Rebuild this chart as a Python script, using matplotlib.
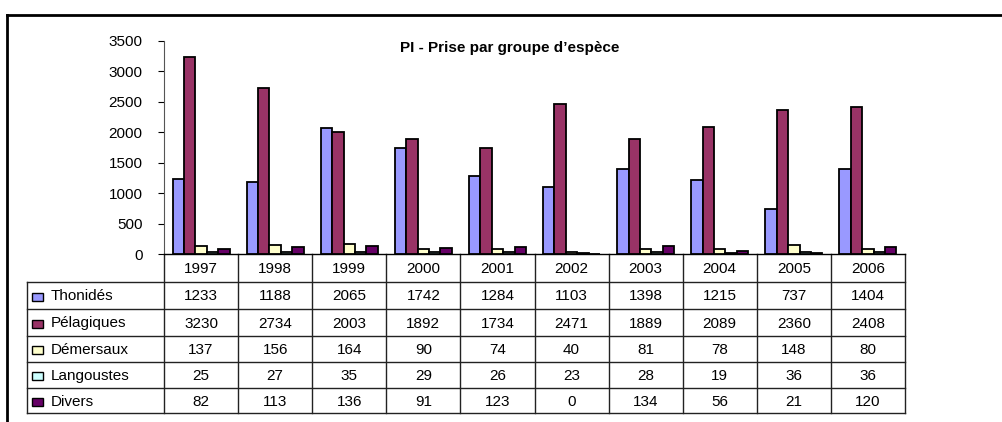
import matplotlib
matplotlib.use("Agg")
import matplotlib.pyplot as plt
from matplotlib.transforms import blended_transform_factory
from matplotlib.lines import Line2D
from matplotlib.patches import Rectangle

# --- data ---
years = ["1997", "1998", "1999", "2000", "2001", "2002", "2003", "2004", "2005", "2006"]
series_names = ["Thonidés", "Pélagiques", "Démersaux", "Langoustes", "Divers"]
thonides = [1233, 1188, 2065, 1742, 1284, 1103, 1398, 1215, 737, 1404]
pelagiques = [3230, 2734, 2003, 1892, 1734, 2471, 1889, 2089, 2360, 2408]
demersaux = [137, 156, 164, 90, 74, 40, 81, 78, 148, 80]
langoustes = [25, 27, 35, 29, 26, 23, 28, 19, 36, 36]
divers = [82, 113, 136, 91, 123, 0, 134, 56, 21, 120]
series_values = [thonides, pelagiques, demersaux, langoustes, divers]
colors = ["#9999FF", "#993366", "#FFFFCC", "#CCFFFF", "#660066"]
title = "PI - Prise par groupe d\u2019espèce"
yticks = [0, 500, 1000, 1500, 2000, 2500, 3000, 3500]

# --- layout (pixels of the 1003x422 reference) ---
W, H = 1003, 422
AX_L, AX_R, AX_TOP, AX_BOT = 164, 905, 41, 254
ROW_EDGES = [254, 282, 309, 336, 362, 388, 413]
LABEL_LEFT = 27
FS = 11

plt.rcParams["font.family"] = ["Liberation Sans", "DejaVu Sans"]

fig = plt.figure(figsize=(W / 100, H / 100), dpi=100)
ax = fig.add_axes([AX_L / W, 1 - AX_BOT / H, (AX_R - AX_L) / W, (AX_BOT - AX_TOP) / H])

n_series = len(series_values)
bar_w = 0.154
xs = list(range(len(years)))
for k, (vals, col) in enumerate(zip(series_values, colors)):
    off = (k - (n_series - 1) / 2) * bar_w
    ax.bar([x + off for x in xs], vals, width=bar_w, color=col,
           edgecolor="black", linewidth=1.3, zorder=3)

ax.set_xlim(-0.5, len(years) - 0.5)
ax.set_ylim(0, 3500)
ax.set_yticks(yticks)
ax.set_yticklabels([str(v) for v in yticks], fontsize=FS)
ax.set_xticks([])
ax.tick_params(axis="y", direction="out", length=4.5, width=0.8, pad=11, colors="black")
for side in ["top", "right"]:
    ax.spines[side].set_visible(False)
ax.spines["left"].set_color("#555555")
ax.spines["bottom"].set_color("black")
ax.spines["bottom"].set_linewidth(1.0)

fig.text(510 / W, 1 - 48 / H, title, ha="center", va="center",
         fontsize=FS, fontweight="bold")

# --- data table below the axes ---
tr = blended_transform_factory(ax.transData, fig.transFigure)
px_per_unit = (AX_R - AX_L) / len(years)
x_label_left = -0.5 - (AX_L - LABEL_LEFT) / px_per_unit
fy = lambda ypx: 1 - ypx / H

line_kw = dict(color="#222222", linewidth=1.0, transform=tr, clip_on=False)
for i in range(len(years) + 1):
    ax.add_line(Line2D([i - 0.5, i - 0.5], [fy(ROW_EDGES[0]), fy(ROW_EDGES[-1])], **line_kw))
for ypx in ROW_EDGES[1:]:
    ax.add_line(Line2D([x_label_left, len(years) - 0.5], [fy(ypx), fy(ypx)], **line_kw))
ax.add_line(Line2D([x_label_left, x_label_left], [fy(ROW_EDGES[1]), fy(ROW_EDGES[-1])], **line_kw))

for i, yr in enumerate(years):
    ax.text(i, fy((ROW_EDGES[0] + ROW_EDGES[1]) / 2 + 1), yr, transform=tr,
            ha="center", va="center", fontsize=FS)

for r, (name, vals, col) in enumerate(zip(series_names, series_values, colors)):
    yc = (ROW_EDGES[r + 1] + ROW_EDGES[r + 2]) / 2 + 1
    fig.patches.append(Rectangle((32 / W, fy(yc + 4)), 11 / W, 8 / H, transform=fig.transFigure,
                                 facecolor=col, edgecolor="black", linewidth=1.0))
    fig.text(51 / W, fy(yc), name, ha="left", va="center", fontsize=FS)
    for i, v in enumerate(vals):
        ax.text(i, fy(yc), str(v), transform=tr, ha="center", va="center", fontsize=FS)

# outer frame (partly cut off at right and bottom in the reference)
fig.add_artist(Line2D([7.5 / W, 7.5 / W], [0, fy(14.5)], color="black", linewidth=2.0))
fig.add_artist(Line2D([7.5 / W, 1], [fy(14.5), fy(14.5)], color="black", linewidth=2.0))

fig.savefig("out.png", dpi=100)
